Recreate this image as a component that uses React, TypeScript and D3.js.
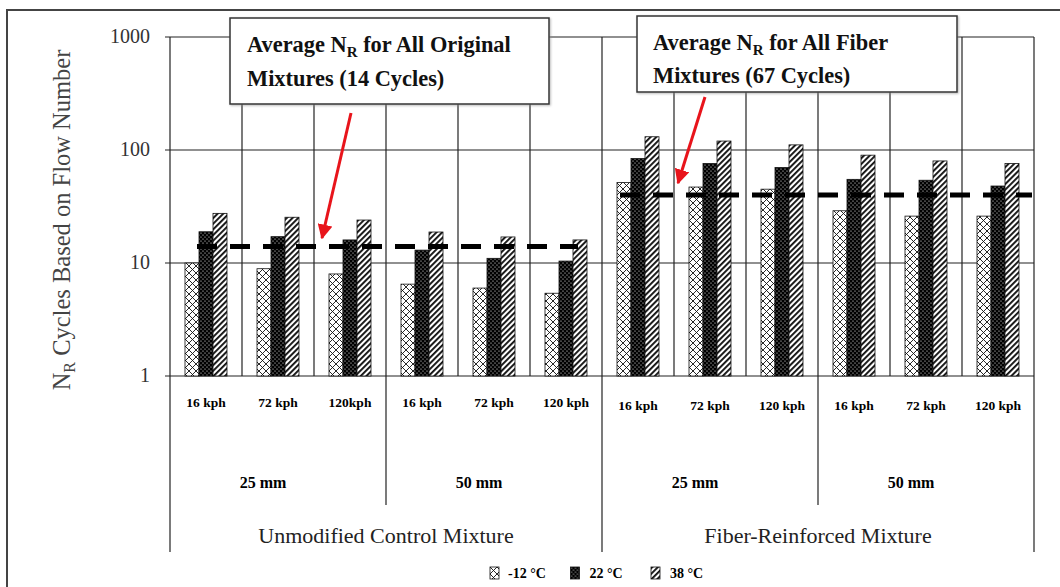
import React from 'react';
import * as d3 from 'd3';

const categories = ['16 kph', '72 kph', '120kph', '16 kph', '72 kph', '120 kph', '16 kph', '72 kph', '120 kph', '16 kph', '72 kph', '120 kph'];
const thicknessGroups = ['25 mm', '50 mm', '25 mm', '50 mm'];
const mixtureGroups = ['Unmodified Control Mixture', 'Fiber-Reinforced Mixture'];
const seriesNames = ['-12 °C', '22 °C', '38 °C'];
const valuesMinus12 = [10, 8.9, 8.0, 6.5, 6.0, 5.4, 51.5, 47, 45, 29, 26, 26];
const values22 = [18.9, 17.1, 16, 13, 11, 10.4, 84, 76, 70, 55, 54, 48];
const values38 = [27.5, 25.4, 24, 18.8, 17, 16, 131, 120, 111, 90, 80, 76];
const averageLines = [14, 40];
const yTicks = [1, 10, 100, 1000];

const W = 1060;
const H = 587;
const left = 170, right = 1034, top = 37, bottom = 376;
const serif = '"Liberation Serif", "DejaVu Serif", serif';
const patternIds = ['pCross', 'pDots', 'pDiag'];

export default function App() {
  const x = d3.scaleBand<number>().domain(d3.range(categories.length)).range([left, right]);
  const inner = d3.scaleBand<number>().domain([0, 1, 2]).range([15, 57]);
  const y = d3.scaleLog().domain([1, 1000]).range([bottom, top]);
  const series = [valuesMinus12, values22, values38];
  const bw = x.bandwidth();

  return (
    <svg width={W} height={H} style={{ position: 'absolute', left: 0, top: 0, background: '#fff' }}>
      <defs>
        <pattern id="pCross" patternUnits="userSpaceOnUse" width="7" height="7">
          <rect width="7" height="7" fill="#fff" />
          <path d="M0,0 L7,7 M7,0 L0,7" stroke="#111" strokeWidth="0.9" />
        </pattern>
        <pattern id="pDots" patternUnits="userSpaceOnUse" width="4" height="4">
          <rect width="4" height="4" fill="#000" />
          <circle cx="1" cy="1" r="0.6" fill="#fff" />
          <circle cx="3" cy="3" r="0.6" fill="#fff" />
        </pattern>
        <pattern id="pDiag" patternUnits="userSpaceOnUse" width="4" height="4" patternTransform="rotate(45)">
          <rect width="4" height="4" fill="#fff" />
          <rect width="1.9" height="4" fill="#111" />
        </pattern>
        <marker id="arrowHead" viewBox="0 0 10 10" refX="9" refY="5" markerWidth="5" markerHeight="5" orient="auto">
          <path d="M0,0 L10,5 L0,10 z" fill="#e8141b" />
        </marker>
        <filter id="shadow" x="-5%" y="-5%" width="110%" height="120%">
          <feDropShadow dx="1" dy="1" stdDeviation="1" floodColor="#888" floodOpacity="0.6" />
        </filter>
      </defs>

      {/* outer frame */}
      <path d={`M7,${H} L7,10 L${W},10`} fill="none" stroke="#444" strokeWidth="2" />

      {/* horizontal gridlines */}
      {yTicks.map((t) => (
        <line key={'g' + t} x1={left - 5} x2={right} y1={y(t)} y2={y(t)} stroke="#222" strokeWidth="1.2" />
      ))}
      {/* vertical category lines */}
      {d3.range(categories.length + 1).map((i) => {
        const xx = i < categories.length ? x(i)! : right;
        let y2 = bottom;
        if (i === 0 || i === categories.length || i === 6) y2 = 552;
        else if (i % 3 === 0) y2 = 505;
        return <line key={'v' + i} x1={xx} x2={xx} y1={top} y2={y2} stroke="#222" strokeWidth="1.2" />;
      })}

      {/* y tick labels */}
      {yTicks.map((t) => (
        <text key={'t' + t} x={150} y={y(t) + 1} textAnchor="end" dominantBaseline="middle"
          fontFamily={serif} fontSize="20" fill="#333">{t}</text>
      ))}
      <text transform={`translate(70,220) rotate(-90)`} textAnchor="middle" fontFamily={serif} fontSize="24.5" fill="#444">
        N<tspan fontSize="16" dy="5">R</tspan><tspan dy="-5"> Cycles Based on Flow Number</tspan>
      </text>

      {/* bars */}
      {series.map((vals, s) => (
        <g key={'s' + s}>
          {vals.map((v, i) => (
            <rect key={i} x={x(i)! + inner(s)!} y={y(v)} width={inner.bandwidth()} height={bottom - y(v)}
              fill={`url(#${patternIds[s]})`} stroke="#111" strokeWidth="0.8" />
          ))}
        </g>
      ))}

      {/* average dashed lines */}
      <line x1={x(0)! + 27} x2={x(5)! + 48} y1={y(averageLines[0])} y2={y(averageLines[0])}
        stroke="#000" strokeWidth="5" strokeDasharray="20 13" />
      <line x1={x(6)! + 18} x2={right - 2} y1={y(averageLines[1])} y2={y(averageLines[1])}
        stroke="#000" strokeWidth="5" strokeDasharray="20 13" />

      {/* category labels */}
      {categories.map((c, i) => (
        <text key={'c' + i} x={x(i)! + bw / 2} y={i < 6 ? 407 : 410} textAnchor="middle"
          fontFamily={serif} fontWeight="bold" fontSize="13.5" fill="#000">{c}</text>
      ))}
      {thicknessGroups.map((g, j) => (
        <text key={'th' + j} x={x(j * 3)! + bw * 1.5 - 15} y={488} textAnchor="middle"
          fontFamily={serif} fontWeight="bold" fontSize="16" fill="#000">{g}</text>
      ))}
      {mixtureGroups.map((g, j) => (
        <text key={'m' + j} x={x(j * 6)! + bw * 3} y={543} textAnchor="middle"
          fontFamily={serif} fontSize="22" fill="#222">{g}</text>
      ))}

      {/* annotation boxes */}
      <g filter="url(#shadow)">
        <rect x={230} y={18} width={319} height={86} fill="#fff" stroke="#333" strokeWidth="1.5" />
        <rect x={637} y={16} width={320} height={76} fill="#fff" stroke="#333" strokeWidth="1.5" />
      </g>
      <g fontFamily={serif} fontWeight="bold" fontSize="22.4" fill="#111">
        <text x={247} y={52}>Average N<tspan fontSize="15" dy="5">R</tspan><tspan dy="-5"> for All Original</tspan></text>
        <text x={247} y={86}>Mixtures (14 Cycles)</text>
        <text x={653} y={50}>Average N<tspan fontSize="15" dy="5">R</tspan><tspan dy="-5"> for All Fiber</tspan></text>
        <text x={653} y={83}>Mixtures (67 Cycles)</text>
      </g>

      {/* arrows */}
      <line x1={351} y1={113} x2={322} y2={238} stroke="#e8141b" strokeWidth="3" markerEnd="url(#arrowHead)" />
      <line x1={705} y1={97} x2={678} y2={183} stroke="#e8141b" strokeWidth="3" markerEnd="url(#arrowHead)" />

      {/* legend */}
      {seriesNames.map((n, s) => (
        <g key={'l' + s} transform={`translate(${490 + s * 80.5},567)`}>
          <rect x={0} y={0} width={9} height={12} fill={`url(#${patternIds[s]})`} stroke="#111" strokeWidth="0.8" />
          <text x={18 + (s > 0 ? 1 : 0)} y={11} fontFamily={serif} fontWeight="bold" fontSize="14" fill="#000">{n}</text>
        </g>
      ))}
    </svg>
  );
}
